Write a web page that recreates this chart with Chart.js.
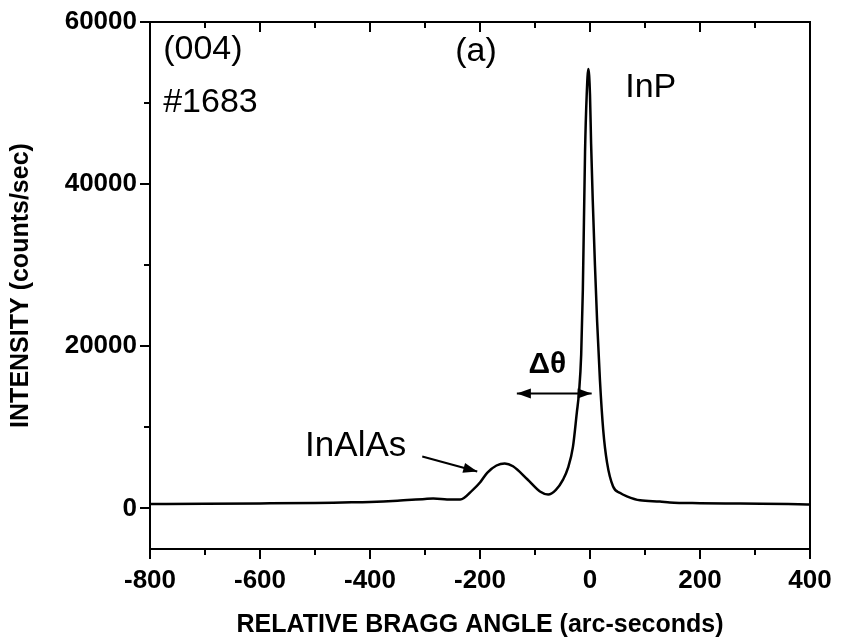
<!DOCTYPE html>
<html>
<head>
<meta charset="utf-8">
<script src="https://cdn.jsdelivr.net/npm/chart.js@4/dist/chart.umd.min.js"></script>
<style>
  html, body { margin: 0; padding: 0; background: #fff; }
  #wrap { width: 842px; height: 640px; }
</style>
</head>
<body>
<div id="wrap"><canvas id="xrd" width="842" height="640"></canvas></div>
<script>
// rocking curve
const angle = [-800, -700, -600, -500, -450, -400, -350, -300, -285, -260, -236, -213, -200, -187, -170, -155, -140, -114, -91, -76, -62, -49, -40, -31, -24, -20, -16, -13, -9, -6, -3, 0, 2, 5, 9, 13, 18, 24, 31, 42, 55, 67, 91, 127, 145, 200, 273, 395, 400];
const intensity = [550, 580, 620, 680, 740, 800, 950, 1180, 1230, 1120, 1100, 2300, 3200, 4400, 5300, 5550, 5200, 3600, 2100, 1720, 2300, 3560, 5000, 7600, 11800, 14300, 19000, 27000, 44000, 51000, 54200, 51000, 45000, 38000, 30000, 23000, 15900, 9700, 5650, 2700, 1900, 1500, 1000, 860, 740, 650, 600, 500, 480];

const xTickLabels = [-800, -600, -400, -200, 0, 200, 400];
const xMinorTicks = [-700, -500, -300, -100, 100, 300];
const yTickLabels = [0, 20000, 40000, 60000];
const yMinorTicks = [10000, 30000, 50000];

const FONT = '"Liberation Sans", Arial, Helvetica, sans-serif';

// labels placed in data units (x, y = left / vertical middle)
const notes = [
  { text: '(004)', x: -776, y: 56550, size: 34, bold: false },
  { text: '#1683', x: -776, y: 50020, size: 34, bold: false },
  { text: '(a)', x: -245, y: 56300, size: 34, bold: false },
  { text: 'InP', x: 64, y: 51870, size: 34, bold: false },
  { text: 'InAlAs', x: -518, y: 7640, size: 35, bold: false },
  { text: '\u0394\u03b8', x: -112, y: 17740, size: 30, bold: true }
];
const arrows = [
  { x1: -133, y1: 14170, x2: 3, y2: 14170, both: true },
  { x1: -305, y1: 6410, x2: -205, y2: 4560, both: false }
];

function head(ctx, fx, fy, tx, ty) {
  const a = Math.atan2(ty - fy, tx - fx);
  const len = 14, w = 5;
  ctx.beginPath();
  ctx.moveTo(tx, ty);
  ctx.lineTo(tx - len * Math.cos(a) + w * Math.sin(a), ty - len * Math.sin(a) - w * Math.cos(a));
  ctx.lineTo(tx - len * Math.cos(a) - w * Math.sin(a), ty - len * Math.sin(a) + w * Math.cos(a));
  ctx.closePath();
  ctx.fill();
}

const decor = {
  id: 'decor',
  afterDraw(chart) {
    const { ctx, chartArea: ca, scales: { x, y } } = chart;
    ctx.save();
    ctx.strokeStyle = '#000';
    ctx.fillStyle = '#000';

    // frame
    ctx.lineWidth = 2;
    ctx.strokeRect(ca.left, ca.top, ca.right - ca.left, ca.bottom - ca.top);

    // ticks
    ctx.lineWidth = 2;
    ctx.beginPath();
    const xt = xTickLabels.map(v => [v, 10]).concat(xMinorTicks.map(v => [v, 6]));
    xt.forEach(([v, l]) => {
      const px = Math.round(x.getPixelForValue(v));
      ctx.moveTo(px, ca.bottom); ctx.lineTo(px, ca.bottom + l);
      ctx.moveTo(px, ca.top); ctx.lineTo(px, ca.top + l);
    });
    const yt = yTickLabels.map(v => [v, 10]).concat(yMinorTicks.map(v => [v, 6]));
    yt.forEach(([v, l]) => {
      const py = Math.round(y.getPixelForValue(v));
      ctx.moveTo(ca.left, py); ctx.lineTo(ca.left - l, py);
    });
    ctx.stroke();

    // text notes
    ctx.textBaseline = 'middle';
    ctx.textAlign = 'left';
    notes.forEach(n => {
      ctx.font = (n.bold ? 'bold ' : '') + n.size + 'px ' + FONT;
      ctx.fillText(n.text, x.getPixelForValue(n.x), y.getPixelForValue(n.y));
    });

    // arrows
    ctx.lineWidth = 2;
    arrows.forEach(a => {
      const x1 = x.getPixelForValue(a.x1), y1 = y.getPixelForValue(a.y1);
      const x2 = x.getPixelForValue(a.x2), y2 = y.getPixelForValue(a.y2);
      ctx.beginPath();
      ctx.moveTo(x1, y1); ctx.lineTo(x2, y2);
      ctx.stroke();
      head(ctx, x1, y1, x2, y2);
      if (a.both) head(ctx, x2, y2, x1, y1);
    });
    ctx.restore();
  }
};

new Chart(document.getElementById('xrd'), {
  type: 'line',
  data: {
    datasets: [{
      data: angle.map((a, i) => ({ x: a, y: intensity[i] })),
      borderColor: '#000',
      borderWidth: 2.5,
      pointRadius: 0,
      fill: false,
      cubicInterpolationMode: 'monotone'
    }]
  },
  options: {
    responsive: false,
    animation: false,
    layout: { padding: { left: 0, right: 32, top: 22, bottom: 0 } },
    plugins: { legend: { display: false }, tooltip: { enabled: false } },
    scales: {
      x: {
        type: 'linear',
        min: -800,
        max: 400,
        afterBuildTicks: s => { s.ticks = xTickLabels.map(v => ({ value: v })); },
        afterFit: s => { s.height = 91; s.paddingLeft = 0; s.paddingRight = 0; },
        ticks: {
          color: '#000',
          padding: 16,
          font: { family: FONT, size: 26, weight: 'bold' },
          maxRotation: 0,
          callback: v => String(v)
        },
        grid: { drawOnChartArea: false, drawTicks: false },
        border: { color: '#000', width: 2 },
        title: {
          display: true,
          text: 'RELATIVE BRAGG ANGLE (arc-seconds)',
          color: '#000',
          font: { family: FONT, size: 25, weight: 'bold' },
          padding: { top: 0, bottom: 0 }
        }
      },
      y: {
        type: 'linear',
        min: -5000,
        max: 60000,
        afterBuildTicks: s => { s.ticks = yTickLabels.map(v => ({ value: v })); },
        afterFit: s => { s.width = 150; s.paddingTop = 0; s.paddingBottom = 0; },
        ticks: {
          color: '#000',
          padding: 13,
          font: { family: FONT, size: 26, weight: 'bold' },
          callback: v => String(v)
        },
        grid: { drawOnChartArea: false, drawTicks: false },
        border: { color: '#000', width: 2 },
        title: {
          display: true,
          text: 'INTENSITY (counts/sec)',
          color: '#000',
          font: { family: FONT, size: 25, weight: 'bold' },
          padding: { top: 6, bottom: 0 }
        }
      }
    }
  },
  plugins: [decor]
});
</script>
</body>
</html>
